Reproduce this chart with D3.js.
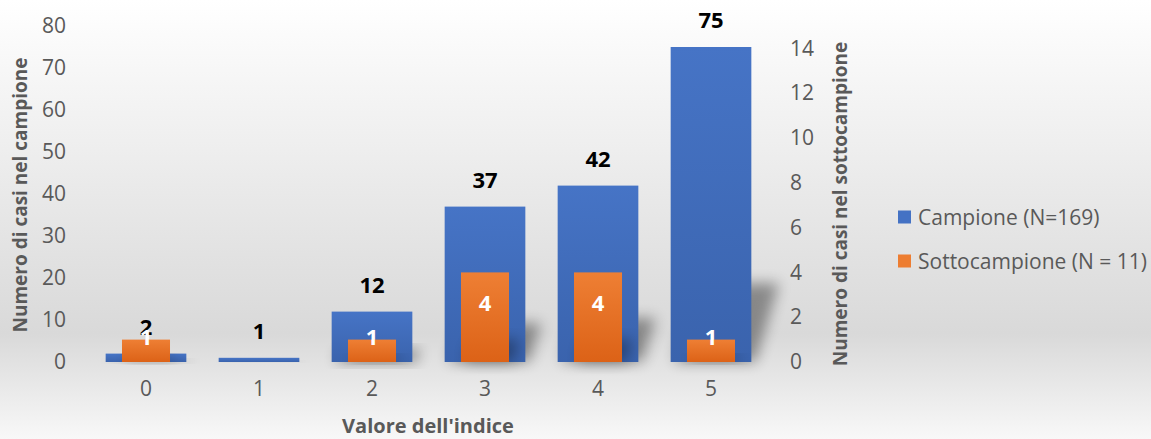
<!DOCTYPE html>
<html>
<head>
<meta charset="utf-8">
<script src="https://cdn.jsdelivr.net/npm/d3@7"></script>
<style>
  html, body { margin: 0; padding: 0; background: #fff; }
  svg { display: block; font-family: "Open Sans", sans-serif; }
</style>
</head>
<body>
<svg id="chart" width="1151" height="439"></svg>
<script>
// ---- data ----
const categories = ["0", "1", "2", "3", "4", "5"];
const campione = [2, 1, 12, 37, 42, 75];
const sottocampione = [1, 0, 1, 4, 4, 1];
const leftTicks = [0, 10, 20, 30, 40, 50, 60, 70, 80];
const rightTicks = [0, 2, 4, 6, 8, 10, 12, 14];
const seriesNames = ["Campione (N=169)", "Sottocampione (N = 11)"];
const xTitle = "Valore dell'indice";
const yLeftTitle = "Numero di casi nel campione";
const yRightTitle = "Numero di casi nel sottocampione";

const W = 1151, H = 439;
const plot = { left: 89.5, right: 767.5, top: 26, bottom: 362 };
const grey = "#595959";

const svg = d3.select("#chart");
const defs = svg.append("defs");

// background gradient
const bg = defs.append("linearGradient").attr("id", "bg").attr("x1", 0).attr("y1", 0).attr("x2", 0).attr("y2", 1);
bg.append("stop").attr("offset", "0%").attr("stop-color", "#ffffff");
bg.append("stop").attr("offset", "76%").attr("stop-color", "#d9d9d9");
bg.append("stop").attr("offset", "100%").attr("stop-color", "#f8f8f8");

const gBlue = defs.append("linearGradient").attr("id", "gBlue").attr("x1", 0).attr("y1", 0).attr("x2", 0).attr("y2", 1);
gBlue.append("stop").attr("offset", "0%").attr("stop-color", "#4674c6");
gBlue.append("stop").attr("offset", "100%").attr("stop-color", "#3a63ad");
const gOrange = defs.append("linearGradient").attr("id", "gOrange").attr("x1", 0).attr("y1", 0).attr("x2", 0).attr("y2", 1);
gOrange.append("stop").attr("offset", "0%").attr("stop-color", "#ee7f34");
gOrange.append("stop").attr("offset", "100%").attr("stop-color", "#dc6217");

const blur = defs.append("filter").attr("id", "blur").attr("x", "-50%").attr("y", "-50%").attr("width", "200%").attr("height", "200%");
blur.append("feGaussianBlur").attr("stdDeviation", 7);

svg.append("rect").attr("width", W).attr("height", H).attr("fill", "url(#bg)");

// ---- scales ----
const x = d3.scaleBand().domain(categories).range([plot.left, plot.right]).paddingInner(0.286).paddingOuter(0.143);
const yL = d3.scaleLinear().domain([0, 80]).range([plot.bottom, plot.top]);
const yR = d3.scaleLinear().domain([0, 15]).range([plot.bottom, plot.top]);
const blueW = x.bandwidth();
const orangeW = x.step() * 0.425;
const cx = c => x(c) + x.bandwidth() / 2;

// perspective shadows
function shadowPath(x0, w, top, base) {
  const hs = (base - top) * 0.25;
  const s = 0.3 * hs;
  return `M${x0},${base}L${x0 + w},${base}L${x0 + w + s},${base - hs}L${x0 + s},${base - hs}Z`;
}

const data = categories.map((c, i) => ({ c, b: campione[i], o: sottocampione[i] }));

svg.append("g").selectAll("path").data(data).join("path")
  .attr("d", d => shadowPath(cx(d.c) - blueW / 2 + 4, blueW, yL(d.b), yL(0)))
  .attr("fill", "#000").attr("opacity", 0.38).attr("filter", "url(#blur)");

// blue bars
svg.append("g").selectAll("rect").data(data).join("rect")
  .attr("x", d => cx(d.c) - blueW / 2)
  .attr("width", blueW)
  .attr("y", d => yL(d.b))
  .attr("height", d => yL(0) - yL(d.b))
  .attr("fill", "url(#gBlue)");

// orange shadows
svg.append("g").selectAll("path").data(data.filter(d => d.o > 0)).join("path")
  .attr("d", d => shadowPath(cx(d.c) - orangeW / 2 + 4, orangeW, yR(d.o), yR(0)))
  .attr("fill", "#000").attr("opacity", 0.32).attr("filter", "url(#blur)");

// blue labels
svg.append("g").selectAll("text").data(data).join("text")
  .attr("x", d => cx(d.c))
  .attr("y", d => yL(d.b) - 19)
  .attr("text-anchor", "middle")
  .attr("font-size", 22).attr("font-weight", "bold").attr("fill", "#000")
  .text(d => d.b);

// orange bars
svg.append("g").selectAll("rect").data(data.filter(d => d.o > 0)).join("rect")
  .attr("x", d => cx(d.c) - orangeW / 2)
  .attr("width", orangeW)
  .attr("y", d => yR(d.o))
  .attr("height", d => yR(0) - yR(d.o))
  .attr("fill", "url(#gOrange)");

// orange labels
svg.append("g").selectAll("text").data(data.filter(d => d.o > 0)).join("text")
  .attr("x", d => cx(d.c))
  .attr("y", d => (yR(d.o) + yR(0)) / 2 - 14)
  .attr("dy", "0.36em")
  .attr("text-anchor", "middle")
  .attr("font-size", 22).attr("font-weight", "bold").attr("fill", "#fff")
  .text(d => d.o);

// ---- axes ----
function styleAxis(g) {
  g.select(".domain").remove();
  g.selectAll(".tick line").remove();
  g.selectAll(".tick text").attr("fill", grey).attr("font-size", 21).attr("font-family", "Open Sans, sans-serif");
}
svg.append("g").attr("transform", `translate(66,0)`)
  .call(d3.axisLeft(yL).tickValues(leftTicks).tickSize(0).tickPadding(0))
  .call(styleAxis);
svg.append("g").attr("transform", `translate(790,0)`)
  .call(d3.axisRight(yR).tickValues(rightTicks).tickSize(0).tickPadding(0))
  .call(styleAxis);
svg.append("g").attr("transform", `translate(0,381)`)
  .call(d3.axisBottom(x).tickSize(0).tickPadding(0))
  .call(styleAxis);

// titles
svg.append("text").attr("x", 428).attr("y", 426).attr("dy", "0.36em").attr("text-anchor", "middle")
  .attr("font-size", 20).attr("font-weight", "bold").attr("fill", grey).text(xTitle);
svg.append("text").attr("transform", "translate(20,195) rotate(-90)").attr("dy", "0.36em").attr("text-anchor", "middle")
  .attr("font-size", 19).attr("font-weight", "bold").attr("fill", grey).text(yLeftTitle);
svg.append("text").attr("transform", "translate(840,204) rotate(-90)").attr("dy", "0.36em").attr("text-anchor", "middle")
  .attr("font-size", 19).attr("font-weight", "bold").attr("fill", grey).text(yRightTitle);

// legend
const legColors = ["#4472c4", "#ed7d31"];
const leg = svg.append("g").selectAll("g").data(seriesNames).join("g")
  .attr("transform", (d, i) => `translate(898,${217 + i * 44})`);
leg.append("rect").attr("x", 0).attr("y", -6.5).attr("width", 13).attr("height", 13).attr("fill", (d, i) => legColors[i]);
leg.append("text").attr("x", 20).attr("dy", "0.36em").attr("font-size", 21).attr("fill", grey).text(d => d);
</script>
</body>
</html>
